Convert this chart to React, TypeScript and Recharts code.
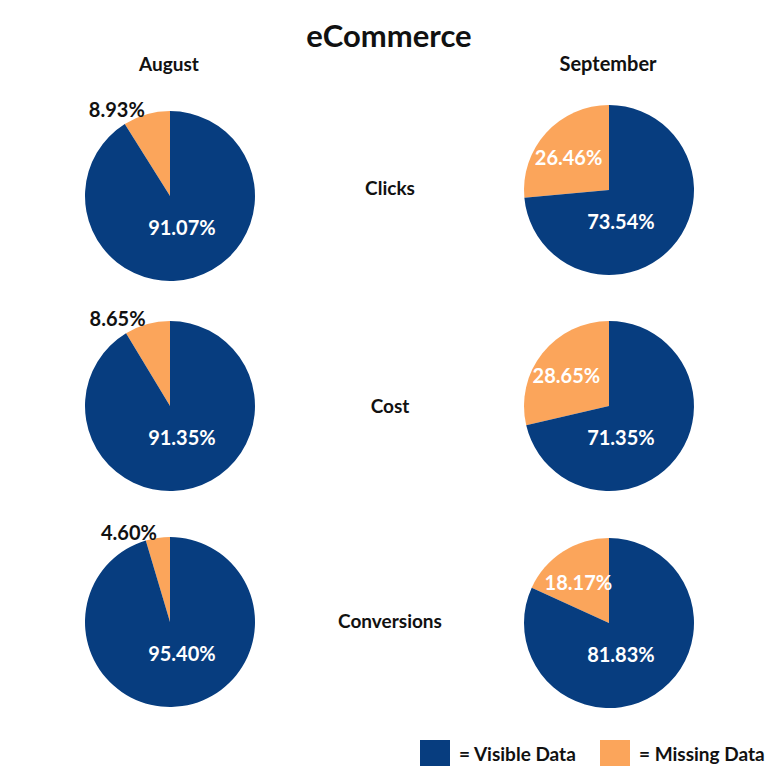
import React from 'react';
import { PieChart, Pie, Cell } from 'recharts';

const title = 'eCommerce';
const months = ['August', 'September'];
const metrics = ['Clicks', 'Cost', 'Conversions'];
const augustVisible = [91.07, 91.35, 95.4];
const augustMissing = [8.93, 8.65, 4.6];
const septemberVisible = [73.54, 71.35, 81.83];
const septemberMissing = [26.46, 28.65, 18.17];
const legendLabels = ['= Visible Data', '= Missing Data'];

const BLUE = '#073d7f';
const ORANGE = '#fba55b';
const FONT = 'Lato, "Open Sans", sans-serif';
const RADIAN = Math.PI / 180;

const colX = [170, 609];
const rowY = [
  [196, 406, 622],
  [190, 406, 623],
];
const R = 85;

const makeData = (missing: number, visible: number) => [
  { name: 'Missing', value: missing },
  { name: 'Visible', value: visible },
];

const renderLabel = (props: any) => {
  const { cx, cy, midAngle, outerRadius, value, index, percent } = props;
  const text = `${Number(value).toFixed(2)}%`;
  const common = { fontFamily: FONT, fontSize: 20, fontWeight: 700, dominantBaseline: 'central' as const };
  if (index === 1) {
    return (
      <text x={cx + outerRadius * 0.14} y={cy + outerRadius * 0.36} fill="#ffffff" textAnchor="middle" {...common}>
        {text}
      </text>
    );
  }
  if (percent < 0.15) {
    const r = outerRadius + 6;
    const x = cx + r * Math.cos(-midAngle * RADIAN);
    const y = cy + r * Math.sin(-midAngle * RADIAN);
    return (
      <text x={x} y={y} fill="#111111" textAnchor="end" {...common}>
        {text}
      </text>
    );
  }
  const r = outerRadius * 0.58;
  const x = cx + r * Math.cos(-midAngle * RADIAN);
  const y = cy + r * Math.sin(-midAngle * RADIAN);
  return (
    <text x={x - 4} y={y} fill="#ffffff" textAnchor="middle" {...common}>
      {text}
    </text>
  );
};

const centered = (x: number, y: number, size: number, txt: string, key: string) => (
  <div
    key={key}
    style={{
      position: 'absolute',
      left: x,
      top: y,
      transform: 'translate(-50%, -50%)',
      fontFamily: FONT,
      fontWeight: 700,
      fontSize: size,
      lineHeight: 1,
      color: '#111',
      whiteSpace: 'nowrap',
    }}
  >
    {txt}
  </div>
);

export default function App() {
  const columns = [
    { missing: augustMissing, visible: augustVisible },
    { missing: septemberMissing, visible: septemberVisible },
  ];
  return (
    <div style={{ position: 'absolute', left: 0, top: 0, width: 780, height: 780, background: '#fff' }}>
      <PieChart width={780} height={780} margin={{ top: 0, right: 0, bottom: 0, left: 0 }}>
        {columns.map((col, ci) =>
          metrics.map((m, ri) => (
            <Pie
              key={`${ci}-${ri}`}
              data={makeData(col.missing[ri], col.visible[ri])}
              dataKey="value"
              nameKey="name"
              cx={colX[ci]}
              cy={rowY[ci][ri]}
              outerRadius={R}
              startAngle={90}
              endAngle={450}
              stroke="none"
              label={renderLabel}
              labelLine={false}
              isAnimationActive={false}
            >
              <Cell fill={ORANGE} />
              <Cell fill={BLUE} />
            </Pie>
          ))
        )}
      </PieChart>
      {centered(389, 35, 31, title, 'title')}
      {centered(169, 63, 19, months[0], 'm0')}
      {centered(608, 63, 20, months[1], 'm1')}
      {metrics.map((m, i) => centered(390, [187, 405, 620][i], 19, m, `r${i}`))}
      {legendLabels.map((l, i) => (
        <div key={l}>
          <div
            style={{
              position: 'absolute',
              left: [420, 600][i],
              top: 740,
              width: 30,
              height: 26,
              background: i === 0 ? BLUE : ORANGE,
            }}
          />
          <div
            style={{
              position: 'absolute',
              left: [459, 639][i],
              top: 753,
              transform: 'translateY(-50%)',
              fontFamily: FONT,
              fontWeight: 700,
              fontSize: 19,
              lineHeight: 1,
              color: '#111',
              whiteSpace: 'nowrap',
            }}
          >
            {l}
          </div>
        </div>
      ))}
    </div>
  );
}
